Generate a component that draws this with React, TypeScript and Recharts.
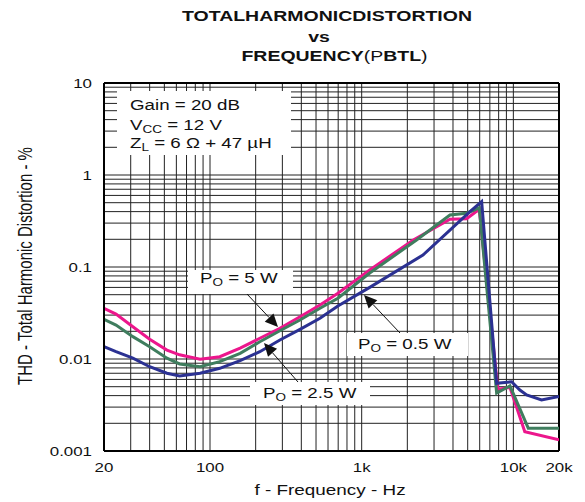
import React from 'react';
import { LineChart, Line, XAxis, YAxis, CartesianGrid, ReferenceLine } from 'recharts';

// ---- data ----
const freq5W = [20, 24, 31, 40, 52, 63, 86, 116, 158, 213, 289, 392, 531, 697, 1130, 2190, 3820, 4920, 5960, 7900, 9500, 11900, 20000];
const thd5W = [0.0356, 0.0308, 0.0224, 0.0164, 0.0125, 0.0111, 0.00993, 0.0106, 0.0131, 0.0168, 0.0216, 0.0288, 0.0386, 0.0518, 0.093, 0.1966, 0.33, 0.335, 0.424, 0.0047, 0.0049, 0.00162, 0.00132];

const freq2W5 = [20, 24, 31, 40, 52, 63, 86, 116, 158, 213, 289, 392, 531, 697, 1130, 2300, 3820, 4920, 5960, 7760, 9500, 12540, 20000];
const thd2W5 = [0.027, 0.0234, 0.0175, 0.0136, 0.0102, 0.00883, 0.00824, 0.00935, 0.01153, 0.0154, 0.0203, 0.0265, 0.0356, 0.0457, 0.0861, 0.1966, 0.367, 0.384, 0.44, 0.00427, 0.0051, 0.00177, 0.00177];

const freq0W5 = [20, 24, 31, 40, 52, 63, 86, 116, 158, 213, 289, 392, 531, 697, 1130, 2535, 5175, 6180, 7760, 9750, 11040, 12230, 15350, 20000];
const thd0W5 = [0.0136, 0.012, 0.0102, 0.00824, 0.007, 0.00654, 0.007, 0.00792, 0.0096, 0.012, 0.0161, 0.021, 0.0277, 0.0377, 0.06, 0.135, 0.399, 0.513, 0.00544, 0.00566, 0.0046, 0.00406, 0.00358, 0.00391];

// grid / tick positions
const xGridTicks = [20, 30, 40, 50, 60, 70, 80, 90, 100, 200, 300, 400, 500, 600, 700, 800, 900, 1000, 2000, 3000, 4000, 5000, 6000, 7000, 8000, 9000, 10000, 20000];
const xMajorTicks = [20, 100, 1000, 10000, 20000];
const xMajorLabels = ['20', '100', '1k', '10k', '20k'];

const yGridTicks = [0.001, 0.002, 0.003, 0.004, 0.005, 0.006, 0.007, 0.008, 0.009, 0.01, 0.02, 0.03, 0.04, 0.05, 0.06, 0.07, 0.08, 0.09, 0.1, 0.2, 0.3, 0.4, 0.5, 0.6, 0.7, 0.8, 0.9, 1, 2, 3, 4, 5, 6, 7, 8, 9, 10];
const yMajorTicks = [0.001, 0.01, 0.1, 1, 10];
const yMajorLabels = ['0.001', '0.01', '0.1', '1', '10'];

const toPoints = (fs: number[], vs: number[]) => fs.map((f, i) => ({ f, thd: vs[i] }));
const data5W = toPoints(freq5W, thd5W);
const data2W5 = toPoints(freq2W5, thd2W5);
const data0W5 = toPoints(freq0W5, thd0W5);

const FONT = '"Liberation Sans", Arial, Helvetica, sans-serif';
const SX = 1.3;

const XTick = (props: any) => {
  const { x, y, payload } = props;
  const i = xMajorTicks.indexOf(payload.value);
  if (i < 0) return null;
  return (
    <text transform={`translate(${x},${y}) scale(${SX},1)`} textAnchor="middle" dy="0.71em" fontSize={13} fontFamily={FONT} fill="#111">
      {xMajorLabels[i]}
    </text>
  );
};

const YTick = (props: any) => {
  const { x, y, payload } = props;
  const i = yMajorTicks.indexOf(payload.value);
  if (i < 0) return null;
  return (
    <text transform={`translate(${x},${y}) scale(${SX},1)`} textAnchor="end" dy="0.355em" fontSize={13} fontFamily={FONT} fill="#111">
      {yMajorLabels[i]}
    </text>
  );
};

const Arrow = ({ x1, y1, x2, y2 }: { x1: number; y1: number; x2: number; y2: number }) => {
  const dx = x2 - x1;
  const dy = y2 - y1;
  const len = Math.sqrt(dx * dx + dy * dy);
  const ux = dx / len;
  const uy = dy / len;
  const hl = 13;
  const hw = 6;
  const bx = x2 - ux * hl;
  const by = y2 - uy * hl;
  const p1 = `${bx - uy * hw},${by + ux * hw}`;
  const p2 = `${bx + uy * hw},${by - ux * hw}`;
  return (
    <g>
      <line x1={x1} y1={y1} x2={bx} y2={by} stroke="#111" strokeWidth={1} />
      <polygon points={`${x2},${y2} ${p1} ${p2}`} fill="#111" />
    </g>
  );
};

const Label = ({ x, y, main, sub, rest, size = 15 }: any) => (
  <text transform={`translate(${x},${y}) scale(1.25,1)`} fontSize={size} fontFamily={FONT} fill="#111">
    {main}
    {sub ? (
      <tspan fontSize={size * 0.72} dy={3}>{sub}</tspan>
    ) : null}
    <tspan dy={sub ? -3 : 0}>{rest}</tspan>
  </text>
);

export default function App() {
  return (
    <div style={{ position: 'absolute', left: 0, top: 0, width: 585, height: 502, background: '#fff' }}>
      <LineChart width={585} height={502} margin={{ top: 83, right: 26, bottom: 21, left: 44 }}>
        <CartesianGrid stroke="#222" strokeWidth={1} />
        <XAxis
          dataKey="f"
          type="number"
          scale="log"
          domain={[20, 20000]}
          ticks={xGridTicks}
          interval={0}
          allowDataOverflow
          tickLine={false}
          tickSize={6}
          tickMargin={6}
          height={30}
          axisLine={{ stroke: '#000', strokeWidth: 2 }}
          tick={<XTick />}
        />
        <YAxis
          dataKey="thd"
          type="number"
          scale="log"
          domain={[0.001, 10]}
          ticks={yGridTicks}
          interval={0}
          allowDataOverflow
          tickLine={false}
          tickSize={6}
          tickMargin={6}
          width={60}
          axisLine={{ stroke: '#000', strokeWidth: 2 }}
          tick={<YTick />}
        />
        <ReferenceLine y={10} stroke="#000" strokeWidth={2} />
        <ReferenceLine x={20000} stroke="#000" strokeWidth={2} />
        <Line data={data5W} dataKey="thd" type="linear" stroke="#ec168c" strokeWidth={3} dot={false} isAnimationActive={false} />
        <Line data={data2W5} dataKey="thd" type="linear" stroke="#3f7d5e" strokeWidth={3} dot={false} isAnimationActive={false} />
        <Line data={data0W5} dataKey="thd" type="linear" stroke="#2b3192" strokeWidth={3} dot={false} isAnimationActive={false} />
      </LineChart>

      <svg width={585} height={502} style={{ position: 'absolute', left: 0, top: 0, pointerEvents: 'none' }}>
        {/* title */}
        <text transform={`translate(327,20.5) scale(${SX},1)`} textAnchor="middle" fontSize={15} fontWeight="bold" fontFamily={FONT} fill="#111">
          TOTALHARMONICDISTORTION
        </text>
        <text transform={`translate(319,41.5) scale(${SX},1)`} textAnchor="middle" fontSize={15} fontWeight="bold" fontFamily={FONT} fill="#111">
          vs
        </text>
        <text transform={`translate(334.5,60.5) scale(${SX},1)`} textAnchor="middle" fontSize={15} fontFamily={FONT} fill="#111">
          <tspan fontWeight="bold">FREQUENCY</tspan>
          <tspan>(P</tspan>
          <tspan fontWeight="bold">BTL</tspan>
          <tspan>)</tspan>
        </text>

        {/* axis titles */}
        <text transform={`translate(32,266) scale(${SX},1) rotate(-90)`} textAnchor="middle" fontSize={15} fontFamily={FONT} fill="#111">
          THD - Total Harmonic Distortion - %
        </text>
        <text transform={`translate(330,495) scale(1.35,1)`} textAnchor="middle" fontSize={14} fontFamily={FONT} fill="#111">
          f - Frequency - Hz
        </text>

        {/* conditions box */}
        <rect x={117} y={91} width={174} height={64} fill="#fff" />
        <Label x={130} y={110} main="Gain = 20 dB" rest="" />
        <Label x={130} y={130} main="V" sub="CC" rest=" = 12 V" />
        <Label x={130} y={148} main="Z" sub="L" rest=" = 6 Ω + 47 µH" />

        {/* series labels */}
        <rect x={188} y={270} width={105} height={24} fill="#fff" />
        <Label x={200} y={283} main="P" sub="O" rest=" = 5 W" />
        <rect x={250} y={382} width={120} height={23} fill="#fff" />
        <Label x={263} y={398} main="P" sub="O" rest=" = 2.5 W" />
        <rect x={347} y={333} width={121} height={23} fill="#fff" />
        <Label x={358} y={349} main="P" sub="O" rest=" = 0.5 W" />

        <Arrow x1={247} y1={294} x2={278} y2={327} />
        <Arrow x1={298} y1={382} x2={264} y2={343} />
        <Arrow x1={400} y1={333} x2={364} y2={295} />
      </svg>
    </div>
  );
}
